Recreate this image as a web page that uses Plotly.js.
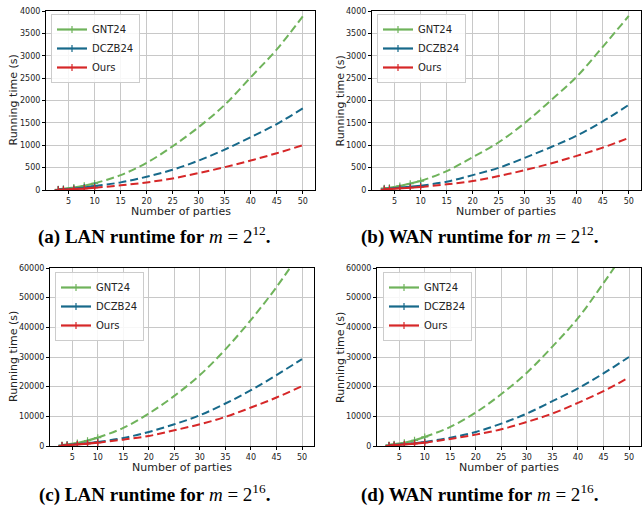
<!DOCTYPE html>
<html>
<head>
<meta charset="utf-8">
<script src="https://cdn.plot.ly/plotly-3.0.1.min.js"></script>
<style>html,body{margin:0;padding:0;background:#fff;}#chart{width:642px;height:514px;}</style>
</head>
<body>
<div id="chart"></div>
<script>
// Number of parties
const nMeasured = [3, 4, 6, 8, 10];
const nExtrap = [10, 15, 20, 25, 30, 35, 40, 45, 50];
const seriesNames = ["GNT24", "DCZB24", "Ours"];

// (a) LAN, m = 2^12
const aGntMeas = [15, 25, 55, 95, 148];
const aGntExt = [148, 333, 607, 978, 1407, 1904, 2519, 3141, 3881];
const aDczbMeas = [10, 15, 30, 55, 89];
const aDczbExt = [89, 170, 296, 452, 659, 904, 1178, 1474, 1822];
const aOursMeas = [5, 8, 18, 32, 52];
const aOursExt = [52, 104, 170, 259, 378, 511, 659, 822, 1000];

// (b) WAN, m = 2^12
const bGntMeas = [40, 50, 90, 140, 200];
const bGntExt = [200, 422, 733, 1067, 1496, 2000, 2533, 3200, 3889];
const bDczbMeas = [20, 30, 45, 65, 95];
const bDczbExt = [95, 185, 333, 496, 719, 956, 1215, 1533, 1904];
const bOursMeas = [15, 20, 35, 50, 67];
const bOursExt = [67, 126, 200, 311, 444, 593, 763, 948, 1163];

// (c) LAN, m = 2^16
const cGntMeas = [300, 500, 1000, 1800, 2820];
const cGntExt = [2820, 6090, 10940, 16900, 23900, 32580, 42500, 53560, 66000];
const cDczbMeas = [200, 300, 600, 900, 1350];
const cDczbExt = [1350, 2700, 4735, 7330, 10370, 14320, 18830, 23900, 29300];
const cOursMeas = [150, 250, 500, 800, 1130];
const cOursExt = [1130, 2140, 3380, 5300, 7330, 9810, 12965, 16350, 20180];

// (d) WAN, m = 2^16
const dGntMeas = [350, 550, 1100, 1900, 3045];
const dGntExt = [3045, 6430, 11300, 17500, 24700, 33500, 43080, 54900, 67500];
const dDczbMeas = [200, 300, 600, 900, 1350];
const dDczbExt = [1350, 2820, 4735, 7550, 10940, 15110, 19400, 24470, 30000];
const dOursMeas = [150, 250, 500, 800, 1130];
const dOursExt = [1130, 2370, 3830, 5640, 8120, 10940, 14540, 18490, 23100];

const yTickVals12 = [0, 500, 1000, 1500, 2000, 2500, 3000, 3500, 4000];
const yTickVals16 = [0, 10000, 20000, 30000, 40000, 50000, 60000];
const xTickVals = [5, 10, 15, 20, 25, 30, 35, 40, 45, 50];

const captions = [
  "<b>(a) LAN runtime for</b> <i>m</i> = 2<sup>12</sup><b>.</b>",
  "<b>(b) WAN runtime for</b> <i>m</i> = 2<sup>12</sup><b>.</b>",
  "<b>(c) LAN runtime for</b> <i>m</i> = 2<sup>16</sup><b>.</b>",
  "<b>(d) WAN runtime for</b> <i>m</i> = 2<sup>16</sup><b>.</b>"
];

const colors = ["#6fb35b", "#17698a", "#d62728"];

const panels = [
  {meas: [aGntMeas, aDczbMeas, aOursMeas], ext: [aGntExt, aDczbExt, aOursExt], ymax: 4000, yt: yTickVals12},
  {meas: [bGntMeas, bDczbMeas, bOursMeas], ext: [bGntExt, bDczbExt, bOursExt], ymax: 4000, yt: yTickVals12},
  {meas: [cGntMeas, cDczbMeas, cOursMeas], ext: [cGntExt, cDczbExt, cOursExt], ymax: 60000, yt: yTickVals16},
  {meas: [dGntMeas, dDczbMeas, dOursMeas], ext: [dGntExt, dDczbExt, dOursExt], ymax: 60000, yt: yTickVals16}
];

const W = 642, H = 514;
// pixel boxes [x0, x1, yTop, yBottom]
const boxes = [
  [46, 315, 11, 190],
  [372, 641, 11, 190],
  [50, 314, 268, 446],
  [377, 641, 268, 446]
];
const legendPos = [[51, 14], [377, 14], [55, 272], [383, 272]];
const yTitleX = [13, 340, 13, 340];
const capPos = [[154, 236], [479, 236], [154, 493], [479, 493]];

const traces = [];
const layout = {
  width: W, height: H,
  margin: {l: 0, r: 0, t: 0, b: 0},
  paper_bgcolor: "#fff", plot_bgcolor: "#fff",
  font: {family: "DejaVu Sans", size: 8, color: "#222"},
  annotations: [],
  showlegend: true
};

panels.forEach((p, i) => {
  const k = i + 1;
  const sfx = (k === 1 ? "" : String(k));
  const xa = "x" + sfx, ya = "y" + sfx;
  const lg = "legend" + sfx;
  p.meas.forEach((vals, s) => {
    traces.push({
      x: nExtrap, y: p.ext[s], xaxis: xa, yaxis: ya, mode: "lines",
      line: {color: colors[s], width: 2, dash: "8px,4px", shape: "spline", smoothing: 1},
      showlegend: false, hoverinfo: "skip", legend: lg
    });
  });
  p.meas.forEach((vals, s) => {
    traces.push({
      x: nMeasured, y: vals, xaxis: xa, yaxis: ya, mode: "lines+markers",
      name: seriesNames[s], legend: lg,
      line: {color: colors[s], width: 2.2},
      marker: {symbol: "cross-thin", size: 5, line: {color: colors[s], width: 1.2}, color: colors[s]}
    });
  });
  const b = boxes[i];
  const axBase = {
    showline: true, mirror: true, linecolor: "#000", linewidth: 1,
    showgrid: true, gridcolor: "#c8c8c8", gridwidth: 1,
    ticks: "outside", ticklen: 3, tickcolor: "#000", zeroline: false,
    tickfont: {family: "DejaVu Sans", size: 8, color: "#222"}
  };
  layout["xaxis" + sfx] = Object.assign({}, axBase, {
    domain: [b[0] / W, b[1] / W], anchor: ya,
    range: [0.65, 52.35], tickvals: xTickVals
  });
  layout["yaxis" + sfx] = Object.assign({}, axBase, {
    domain: [1 - b[3] / H, 1 - b[2] / H], anchor: xa,
    range: [0, p.ymax], tickvals: p.yt, tickformat: "d"
  });
  layout[lg] = {
    x: legendPos[i][0] / W, y: 1 - legendPos[i][1] / H, xanchor: "left", yanchor: "top",
    bgcolor: "rgba(255,255,255,0.85)", bordercolor: "#cccccc", borderwidth: 1,
    font: {family: "DejaVu Sans", size: 10, color: "#222"},
    tracegroupgap: 0, itemwidth: 30
  };
  layout.annotations.push({
    text: "Number of parties", xref: "paper", yref: "paper",
    x: (b[0] + b[1]) / 2 / W, y: 1 - (b[3] + 21) / H, xanchor: "center", yanchor: "middle",
    borderpad: 0, showarrow: false, font: {family: "DejaVu Sans", size: 11, color: "#222"}
  });
  layout.annotations.push({
    text: "Running time (s)", xref: "paper", yref: "paper", textangle: -90,
    x: yTitleX[i] / W, y: 1 - (b[2] + b[3]) / 2 / H, xanchor: "center", yanchor: "middle",
    borderpad: 0, showarrow: false, font: {family: "DejaVu Sans", size: 11, color: "#222"}
  });
  layout.annotations.push({
    text: captions[i], xref: "paper", yref: "paper",
    x: capPos[i][0] / W, y: 1 - capPos[i][1] / H, xanchor: "center", yanchor: "middle",
    showarrow: false, font: {family: "Liberation Serif", size: 19, color: "#000"}
  });
});

Plotly.newPlot("chart", traces, layout, {displayModeBar: false, staticPlot: true});
</script>
</body>
</html>
